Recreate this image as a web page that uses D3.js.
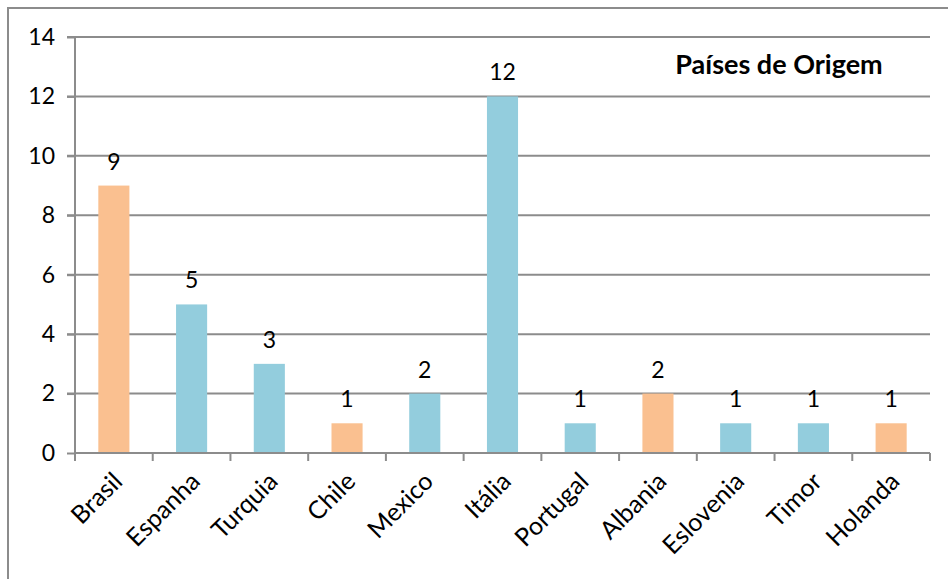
<!DOCTYPE html>
<html>
<head>
<meta charset="utf-8">
<style>
  body { margin: 0; background: #fff; }
  svg text { font-family: Lato, "Open Sans", sans-serif; fill: #000; }
  .grid line { stroke: #8c8c8c; stroke-width: 2; }
  .axis path, .axis line { stroke: #8c8c8c; stroke-width: 2; }
</style>
<script src="https://d3js.org/d3.v7.min.js"></script>
</head>
<body>
<svg width="948" height="579"></svg>
<script>
// data
var countries = ["Brasil", "Espanha", "Turquia", "Chile", "Mexico", "Itália", "Portugal", "Albania", "Eslovenia", "Timor", "Holanda"];
var counts = [9, 5, 3, 1, 2, 12, 1, 2, 1, 1, 1];
var groups = ["a", "b", "b", "a", "b", "b", "b", "a", "b", "b", "a"];
var yTicks = [0, 2, 4, 6, 8, 10, 12, 14];
var title = "Países de Origem";

var svg = d3.select("svg");

// frame (only left and top visible)
svg.append("rect")
   .attr("x", 8).attr("y", 8)
   .attr("width", 1000).attr("height", 700)
   .attr("fill", "none")
   .attr("stroke", "#8c8c8c")
   .attr("stroke-width", 2);

var pLeft = 75, pRight = 930, pTop = 37, pBottom = 453;

var x = d3.scaleBand().domain(countries).range([pLeft, pRight]).paddingInner(0.6).paddingOuter(0.3);
var y = d3.scaleLinear().domain([0, 14]).range([pBottom, pTop]);
var color = d3.scaleOrdinal().domain(["a", "b"]).range(["#fac090", "#93cddd"]);

// gridlines
svg.append("g").attr("class", "grid")
   .selectAll("line")
   .data(yTicks.filter(function(d) { return d > 0; }))
   .enter().append("line")
   .attr("x1", pLeft - 8).attr("x2", pRight)
   .attr("y1", function(d) { return y(d); })
   .attr("y2", function(d) { return y(d); });

// y axis
var yAxis = svg.append("g").attr("class", "axis")
   .attr("transform", "translate(" + pLeft + ",0)")
   .call(d3.axisLeft(y).tickValues(yTicks).tickSize(8).tickPadding(12));
yAxis.selectAll("text").style("font-size", "23px").style("font-family", "Lato, sans-serif");
yAxis.select(".domain").attr("d", "M0," + y(0) + "V" + y(14));

// bars
svg.append("g").selectAll("rect")
   .data(countries)
   .enter().append("rect")
   .attr("x", function(d) { return x(d); })
   .attr("width", x.bandwidth())
   .attr("y", function(d, i) { return y(counts[i]); })
   .attr("height", function(d, i) { return y(0) - y(counts[i]); })
   .attr("fill", function(d, i) { return color(groups[i]); });

// x axis with ticks at category boundaries
var bounds = d3.range(countries.length + 1).map(function(i) { return pLeft + i * (pRight - pLeft) / countries.length; });
var xa = svg.append("g").attr("class", "axis");
xa.append("line").attr("x1", pLeft).attr("x2", pRight).attr("y1", pBottom).attr("y2", pBottom);
xa.selectAll(".tk").data(bounds).enter().append("line")
  .attr("class", "tk")
  .attr("x1", function(d) { return d; }).attr("x2", function(d) { return d; })
  .attr("y1", pBottom).attr("y2", pBottom + 8);

// x labels
svg.append("g").selectAll("text")
   .data(countries)
   .enter().append("text")
   .attr("transform", function(d) {
      return "translate(" + (x(d) + x.bandwidth() / 2 + 10) + "," + (pBottom + 30) + ") rotate(-45)";
   })
   .attr("text-anchor", "end")
   .style("font-size", "25px")
   .text(function(d) { return d; });

// value labels
svg.append("g").selectAll("text")
   .data(countries)
   .enter().append("text")
   .attr("x", function(d) { return x(d) + x.bandwidth() / 2; })
   .attr("y", function(d, i) { return y(counts[i]) - 16; })
   .attr("text-anchor", "middle")
   .style("font-size", "23px")
   .text(function(d, i) { return counts[i]; });

// title
svg.append("text")
   .attr("x", 779).attr("y", 74)
   .attr("text-anchor", "middle")
   .style("font-size", "27px")
   .style("font-weight", "bold")
   .text(title);
</script>
</body>
</html>
